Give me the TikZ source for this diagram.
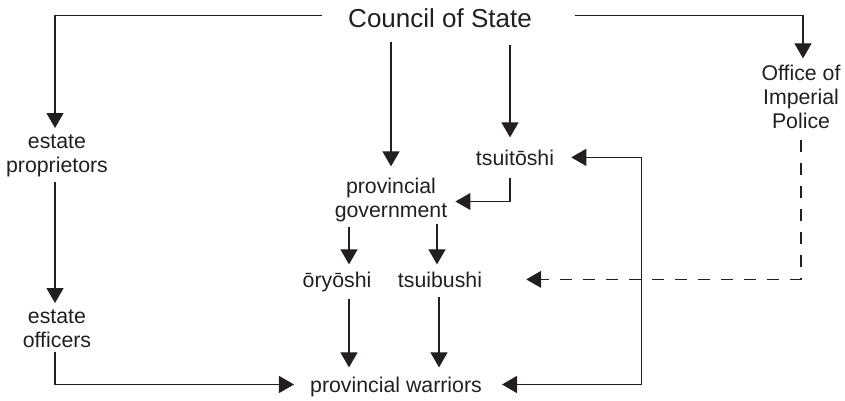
\documentclass[tikz,border=0pt]{standalone}
\usepackage{fontspec}
\setmainfont{Liberation Sans}
\usetikzlibrary{arrows.meta}
\definecolor{ink}{RGB}{35,31,32}
\tikzset{
  lbl/.style={inner sep=0pt, anchor=base, align=center, text=ink,
    font=\fontsize{21.3}{24}\selectfont},
  big/.style={lbl, font=\fontsize{26}{30}\selectfont},
  arr/.style={draw=ink, line width=1.15pt, -{Triangle[length=15pt,width=17pt]}},
  arrtwo/.style={draw=ink, line width=1.15pt, {Triangle[length=15pt,width=17pt]}-{Triangle[length=15pt,width=17pt]}},
  dsh/.style={dash pattern=on 12pt off 11pt}
}
\begin{document}
\begin{tikzpicture}[x=1pt,y=1pt]
\useasboundingbox (0,0) rectangle (845,400);
\node[big] (council) at (440,372) {Council of State};
\node[lbl] (office) at (801,272) {Office of\\Imperial\\Police};
\node[lbl] (estprop) at (57,228) {estate\\proprietors};
\node[lbl] (estoff) at (57,53) {estate\\officers};
\node[lbl] (tsu) at (515,235) {tsuitōshi};
\node[lbl] (provgov) at (391,183) {provincial\\government};
\node[lbl] (ory) at (337,113) {ōryōshi};
\node[lbl] (tsub) at (440,113) {tsuibushi};
\node[lbl] (warriors) at (396,8) {provincial warriors};

\draw[arr] ([xshift=-26pt,yshift=3pt]council.west) -| ([xshift=-2pt,yshift=6pt]estprop.north);
\draw[arr] ([xshift=43pt,yshift=3pt]council.east) -| ([xshift=2pt,yshift=6pt]office.north);
\draw[arr] ([yshift=-14pt]council.south -| provgov.north) -- ([yshift=11pt]provgov.north);
\draw[arr] ([xshift=-5pt,yshift=-17pt]council.south -| tsu.north) -- ([xshift=-5pt,yshift=12pt]tsu.north);
\draw[arr] ([xshift=-2pt,yshift=-5pt]estprop.south) -- ([xshift=-2pt,yshift=6pt]estoff.north);
\draw[arr] ([xshift=-2pt,yshift=-5pt]estoff.south) |- ([xshift=-16pt,yshift=2pt]warriors.west);
\draw[arr] ([xshift=12pt,yshift=-5pt]provgov.south -| ory.north) -- ([xshift=12pt,yshift=7pt]ory.north);
\draw[arr] ([xshift=-3pt,yshift=-2pt]provgov.south -| tsub.north) -- ([xshift=-3pt,yshift=7pt]tsub.north);
\draw[arr] ([xshift=12pt,yshift=-7pt]ory.south) -- ([xshift=12pt,yshift=9pt]ory.south |- warriors.north);
\draw[arr] ([xshift=-1pt,yshift=-10pt]tsub.south) -- ([xshift=-1pt,yshift=9pt]tsub.south |- warriors.north);
\draw[arr] ([xshift=-5pt,yshift=-13pt]tsu.south) |- ([xshift=8pt,yshift=-2pt]provgov.east);
\draw[arrtwo] ([xshift=17pt]tsu.east) -- ++(70,0) |- ([xshift=20pt,yshift=2pt]warriors.east);
\draw[arr,dsh] ([yshift=-12pt]office.south) |- ([xshift=44pt]tsub.east);
\end{tikzpicture}
\end{document}
